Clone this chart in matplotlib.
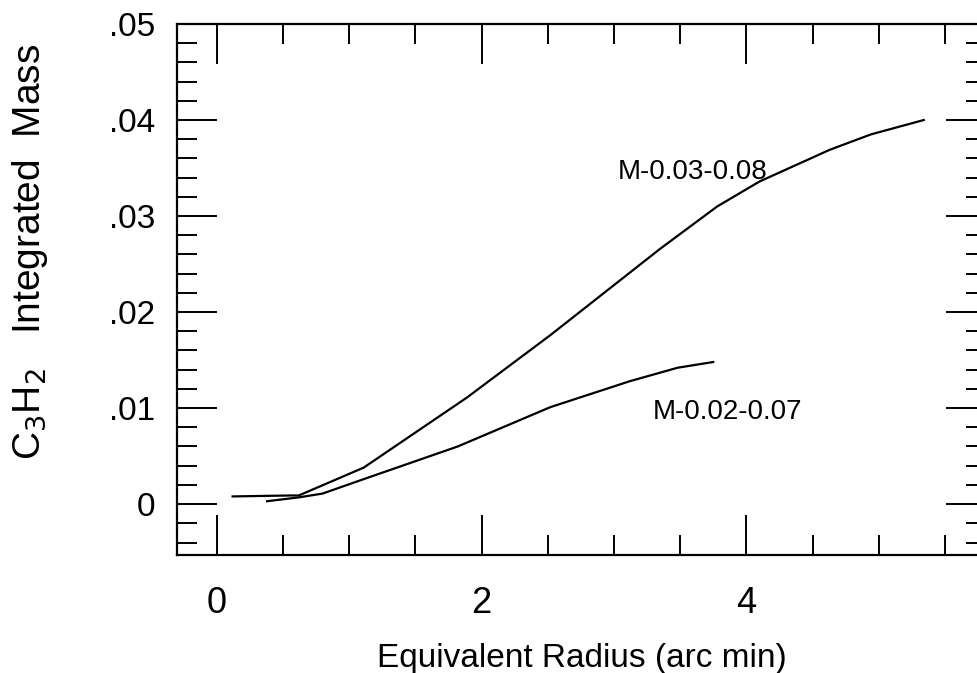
import matplotlib.pyplot as plt
from matplotlib.ticker import MultipleLocator

# M-0.03-0.08
radius_a = [0.12, 0.56, 0.62, 1.11, 1.89, 2.52, 3.35, 3.78, 4.10, 4.63, 4.94, 5.34]
mass_a = [0.0008, 0.0009, 0.0009, 0.0038, 0.0111, 0.0176, 0.0266, 0.0310, 0.0336, 0.0369, 0.0385, 0.0400]

# M-0.02-0.07
radius_b = [0.38, 0.62, 0.80, 1.11, 1.82, 2.52, 3.12, 3.48, 3.75]
mass_b = [0.0003, 0.0007, 0.0011, 0.0026, 0.0060, 0.0101, 0.0128, 0.0142, 0.0148]

ytick_vals = [0, 0.01, 0.02, 0.03, 0.04, 0.05]
ytick_labels = ["0", ".01", ".02", ".03", ".04", ".05"]
xtick_vals = [0, 2, 4]
xtick_labels = ["0", "2", "4"]

plt.rcParams['font.family'] = ['Liberation Sans', 'DejaVu Sans']

fig = plt.figure(figsize=(9.78, 6.73), dpi=100)
ax = fig.add_axes([177 / 978, 1 - 555 / 673, (986 - 177) / 978, (555 - 24) / 673])

ax.plot(radius_a, mass_a, color="black", lw=1.6)
ax.plot(radius_b, mass_b, color="black", lw=1.6)

ax.text(3.03, 0.0346, "M-0.03-0.08", fontsize=20, va="center", ha="left")
ax.text(3.29, 0.0096, "M-0.02-0.07", fontsize=20, va="center", ha="left")

ax.set_xlim(-0.3, 5.81)
ax.set_ylim(-0.0053, 0.05)

ax.set_xticks(xtick_vals)
ax.set_xticklabels(xtick_labels)
ax.xaxis.set_minor_locator(MultipleLocator(0.5))
ax.set_yticks(ytick_vals)
ax.set_yticklabels(ytick_labels)
ax.yaxis.set_minor_locator(MultipleLocator(0.002))

ax.tick_params(which="both", direction="in", top=True, right=True, width=1.4)
ax.tick_params(which="major", length=29)
ax.tick_params(which="minor", length=14.5)
ax.tick_params(axis="y", pad=16, labelsize=24)
ax.tick_params(axis="x", pad=22, labelsize=26)
for s in ax.spines.values():
    s.set_linewidth(1.6)

ax.set_xlabel("Equivalent Radius (arc min)", fontsize=24, labelpad=16)
ax.set_ylabel(r"C$_3$H$_2$   Integrated  Mass", fontsize=28)
ax.yaxis.set_label_coords((30 - 177) / 809, (555 - 252) / 531)
ax.yaxis.label.set_verticalalignment("center")

fig.savefig("out.png", dpi=100)
